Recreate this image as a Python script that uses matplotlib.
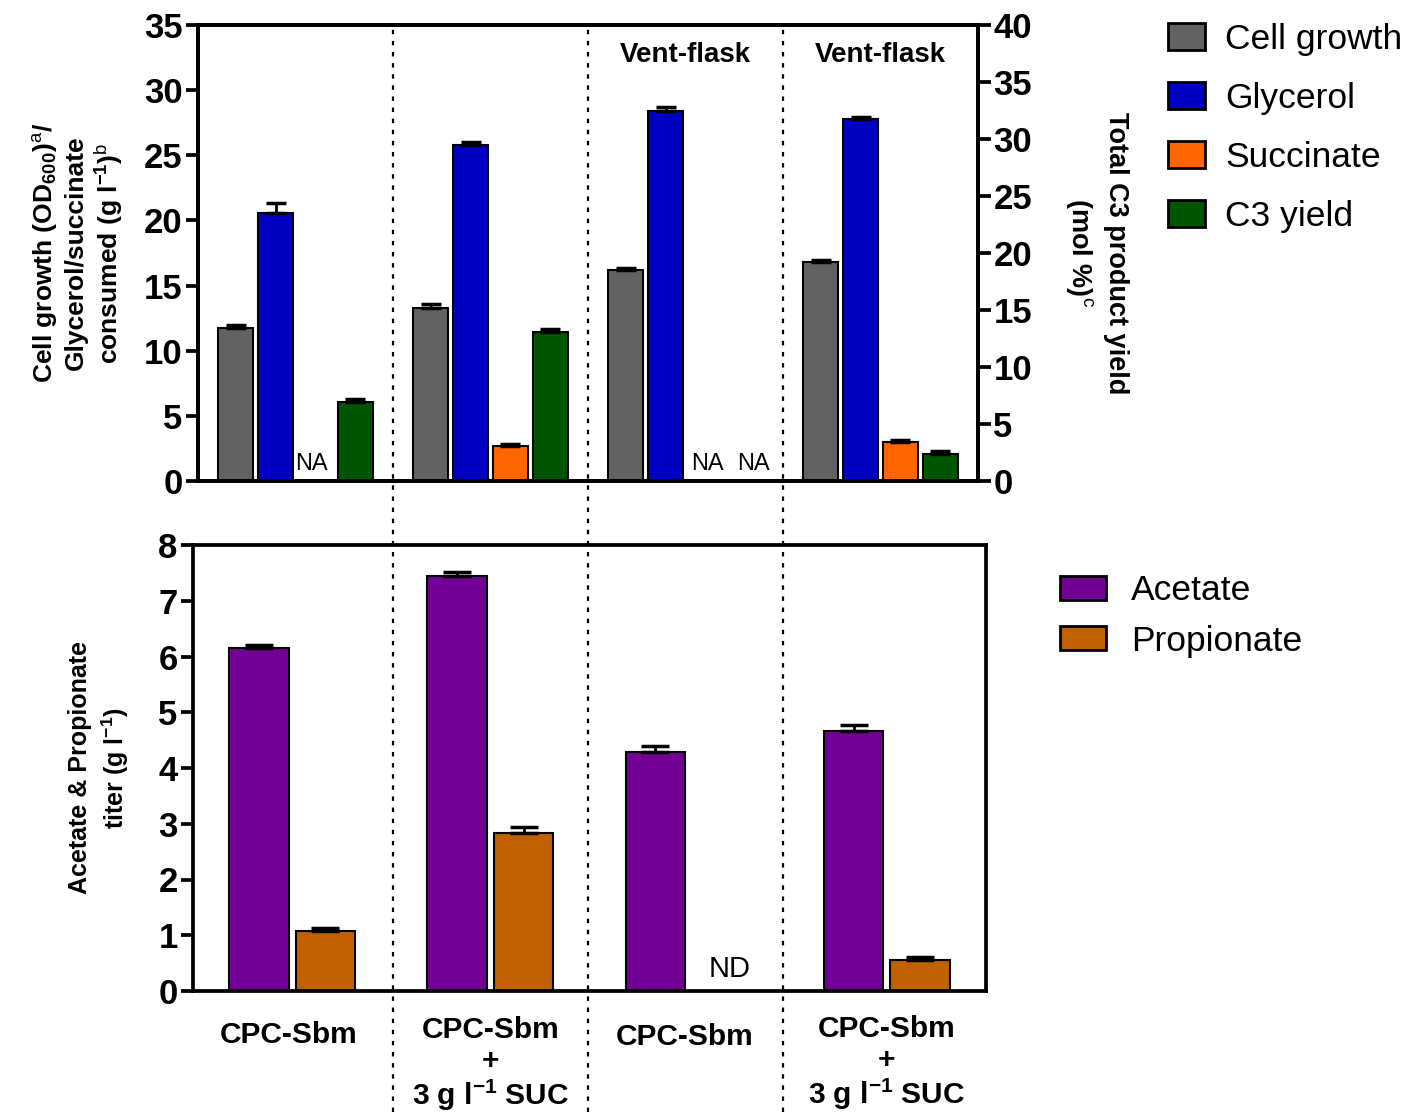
import matplotlib
matplotlib.use('Agg')
import matplotlib.pyplot as plt
import numpy as np
from matplotlib.patches import Patch
from matplotlib.lines import Line2D
import matplotlib.transforms as mtransforms

plt.rcParams['font.family'] = ['Liberation Sans', 'DejaVu Sans']
plt.rcParams['mathtext.fontset'] = 'custom'
plt.rcParams['mathtext.rm'] = 'Liberation Sans'
plt.rcParams['mathtext.bf'] = 'Liberation Sans:bold'
plt.rcParams['mathtext.it'] = 'Liberation Sans:italic'

# ---------------- data ----------------
group_labels = ['CPC-Sbm',
                'CPC-Sbm\n+\n3 g l$^{\\mathbf{-1}}$ SUC',
                'CPC-Sbm',
                'CPC-Sbm\n+\n3 g l$^{\\mathbf{-1}}$ SUC']
group_notes = ['', '', 'Vent-flask', 'Vent-flask']

cell_growth = [11.75, 13.3, 16.2, 16.8]
cell_growth_err = [0.2, 0.25, 0.15, 0.15]
glycerol = [20.55, 25.8, 28.4, 27.8]
glycerol_err = [0.8, 0.25, 0.3, 0.12]
succinate = [np.nan, 2.7, np.nan, 3.0]
succinate_err = [np.nan, 0.12, np.nan, 0.15]
c3_yield = [6.9, 13.1, np.nan, 2.4]          # mol %, right axis
c3_yield_err = [0.3, 0.2, np.nan, 0.25]

acetate = [6.15, 7.44, 4.29, 4.66]
acetate_err = [0.05, 0.08, 0.1, 0.11]
propionate = [1.08, 2.83, np.nan, 0.56]
propionate_err = [0.05, 0.11, np.nan, 0.05]

top_series = ['Cell growth', 'Glycerol', 'Succinate', 'C3 yield']
top_colors = ['#626262', '#0000C2', '#FF6600', '#005500']
bot_series = ['Acetate', 'Propionate']
bot_colors = ['#730094', '#C06000']

# ---------------- figure ----------------
W, H = 1405, 1114
fig = plt.figure(figsize=(W / 100, H / 100), dpi=100)

def fx(px):
    return px / W

def fy(py):
    return 1 - py / H

ax1 = fig.add_axes([fx(198), fy(481), fx(978) - fx(198), fy(25) - fy(481)])
ax1r = ax1.twinx()
ax2 = fig.add_axes([fx(193), fy(991), fx(986) - fx(193), fy(545) - fy(991)])

x = np.arange(4)
lw_sp = 2.7
TICK_FS = 25

# ---- top panel ----
step = 0.205
bw = 0.18
offs = [-1.5 * step, -0.5 * step, 0.5 * step, 1.5 * step]
na_shift = {(0, 2): -0.02, (2, 2): 0.01, (2, 3): 0.04}
top_vals = [cell_growth, glycerol, succinate, c3_yield]
top_errs = [cell_growth_err, glycerol_err, succinate_err, c3_yield_err]
for i, (vals, errs, col) in enumerate(zip(top_vals, top_errs, top_colors)):
    axis = ax1r if i == 3 else ax1
    v = np.array(vals, dtype=float)
    e = np.array(errs, dtype=float)
    axis.bar(x + offs[i], np.nan_to_num(v), width=bw, color=col,
             edgecolor='black', linewidth=1.5, zorder=2)
    ok = ~np.isnan(v)
    axis.errorbar((x + offs[i])[ok], v[ok], yerr=[np.zeros(ok.sum()), e[ok]],
                  fmt='none', ecolor='black', elinewidth=2, capsize=7,
                  capthick=2.5, zorder=3)
    for j in np.where(~ok)[0]:
        ax1.text(x[j] + offs[i] + na_shift.get((j, i), 0), 0.45, 'NA',
                 ha='center', va='bottom', fontsize=17)

ax1.set_xlim(-0.5, 3.5)
ax1r.set_xlim(-0.5, 3.5)
ax1.set_ylim(0, 35)
ax1r.set_ylim(0, 40)
ax1.set_yticks(np.arange(0, 36, 5))
ax1r.set_yticks(np.arange(0, 41, 5))
ax1.set_xticks([])
for a in (ax1, ax1r):
    for s in a.spines.values():
        s.set_linewidth(lw_sp)
    a.tick_params(axis='y', direction='out', length=9, width=lw_sp, pad=2)
    for lab in a.get_yticklabels():
        lab.set_fontsize(TICK_FS)
        lab.set_fontweight('bold')

ax1.set_ylabel('Cell growth (OD$_{\\mathbf{600}}$)$^{\\mathrm{a}}$/\nGlycerol/succinate\n'
               'consumed (g l$^{\\mathbf{-1}}$)$^{\\mathrm{b}}$',
               fontsize=19, fontweight='bold', labelpad=14, linespacing=1.2)
ax1r.set_ylabel('Total C3 product yield\n(mol %)$^{\\mathrm{c}}$', rotation=270,
                fontsize=19.5, fontweight='bold', labelpad=70, linespacing=1.35)

for j, note in enumerate(group_notes):
    if note:
        ax1.text(x[j], 32.7, note, ha='center', va='center', fontsize=20,
                 fontweight='bold')

# ---- bottom panel ----
bstep = 0.335
bbw = 0.30
boffs = [-0.5 * bstep, 0.5 * bstep]
for i, (vals, errs, col) in enumerate(zip([acetate, propionate],
                                          [acetate_err, propionate_err], bot_colors)):
    v = np.array(vals, dtype=float)
    e = np.array(errs, dtype=float)
    ax2.bar(x + boffs[i], np.nan_to_num(v), width=bbw, color=col,
            edgecolor='black', linewidth=1.5, zorder=2)
    ok = ~np.isnan(v)
    ax2.errorbar((x + boffs[i])[ok], v[ok], yerr=[np.zeros(ok.sum()), e[ok]],
                 fmt='none', ecolor='black', elinewidth=2, capsize=10,
                 capthick=2.5, zorder=3)
    for j in np.where(~ok)[0]:
        ax2.text(x[j] + boffs[i] + 0.04, 0.14, 'ND', ha='center', va='bottom',
                 fontsize=21)

ax2.set_xlim(-0.5, 3.5)
ax2.set_ylim(0, 8)
ax2.set_yticks(np.arange(0, 9, 1))
ax2.set_xticks([])
for s in ax2.spines.values():
    s.set_linewidth(lw_sp)
ax2.tick_params(axis='y', direction='out', length=9, width=lw_sp, pad=2)
for lab in ax2.get_yticklabels():
    lab.set_fontsize(TICK_FS)
    lab.set_fontweight('bold')
ax2.set_ylabel('Acetate & Propionate\ntiter (g l$^{\\mathbf{-1}}$)', fontsize=18,
               fontweight='bold', labelpad=20, linespacing=1.3)

# group labels below bottom panel
trans_lab = mtransforms.blended_transform_factory(ax2.transData, fig.transFigure)
label_tops = [1021, 1016, 1023, 1015]
label_dx = [-0.02, 0.0, -0.02, 0.0]
for j, lab in enumerate(group_labels):
    ax2.text(x[j] + label_dx[j], fy(label_tops[j]), lab, transform=trans_lab,
             ha='center', va='top', fontsize=21.5, fontweight='bold',
             linespacing=1.12)

# dotted separators
trans_sep = mtransforms.blended_transform_factory(ax1.transData, fig.transFigure)
for xs in [0.5, 1.5, 2.5]:
    fig.add_artist(Line2D([xs, xs], [fy(1112), fy(28)], transform=trans_sep,
                          color='black', linewidth=1.6, linestyle=(0, (2, 3))))

# legends
h_top = [Patch(facecolor=c, edgecolor='black', linewidth=2) for c in top_colors]
fig.legend(h_top, top_series, loc='upper left', bbox_to_anchor=(fx(1154), fy(9)),
           frameon=False, fontsize=25.5, handlelength=1.05, handleheight=0.8,
           handletextpad=0.56, labelspacing=0.73, borderaxespad=0)
h_bot = [Patch(facecolor=c, edgecolor='black', linewidth=2) for c in bot_colors]
fig.legend(h_bot, bot_series, loc='upper left', bbox_to_anchor=(fx(1046), fy(560)),
           frameon=False, fontsize=25.5, handlelength=1.3, handleheight=0.65,
           handletextpad=0.7, labelspacing=0.49, borderaxespad=0)

fig.savefig('out.png', dpi=100)
